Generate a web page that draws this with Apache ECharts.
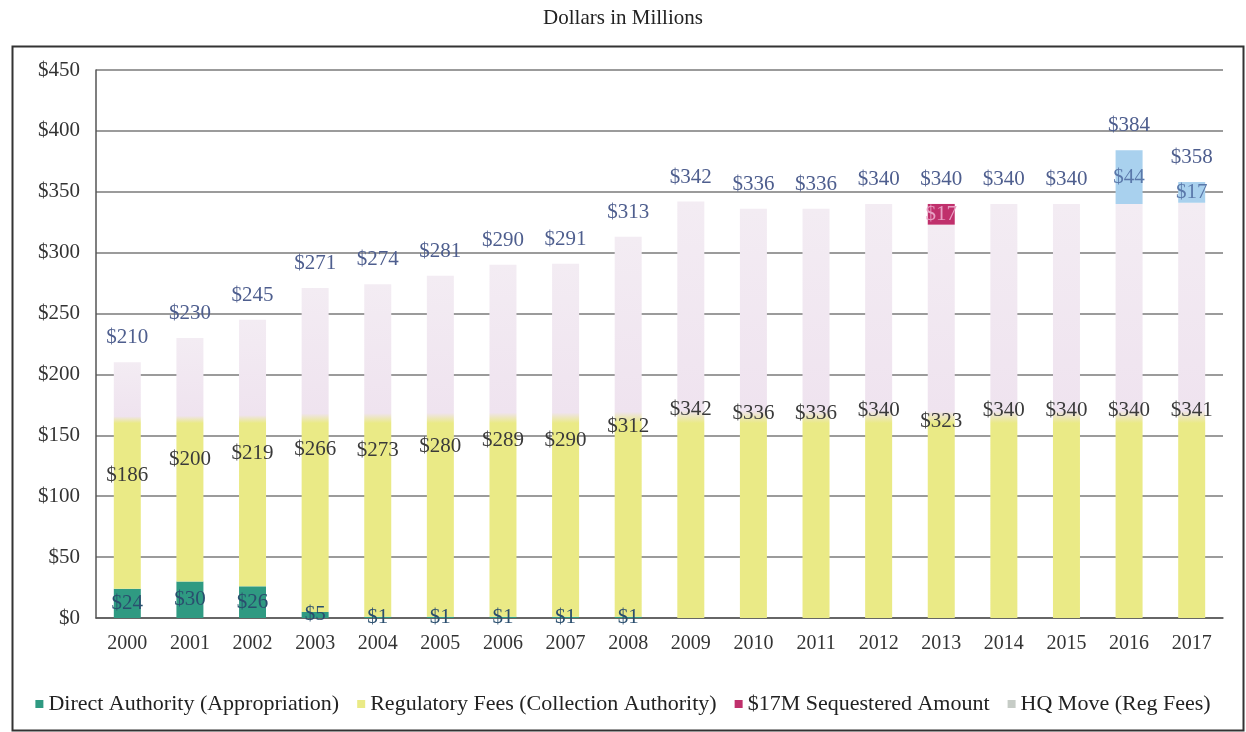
<!DOCTYPE html>
<html>
<head>
<meta charset="utf-8">
<script src="https://cdn.jsdelivr.net/npm/echarts@6/dist/echarts.min.js"></script>
<style>
html,body{margin:0;padding:0;background:#fff;}
#chart{width:1246px;height:732px;}
</style>
</head>
<body>
<div id="chart"></div>
<script>
var categories = ['2000','2001','2002','2003','2004','2005','2006','2007','2008','2009','2010','2011','2012','2013','2014','2015','2016','2017'];
var directAuthority = [24,30,26,5,1,1,1,1,1,null,null,null,null,null,null,null,null,null];
var regulatoryFees = [186,200,219,266,273,280,289,290,312,342,336,336,340,323,340,340,340,341];
var sequestered = [null,null,null,null,null,null,null,null,null,null,null,null,null,17,null,null,null,null];
var hqMove = [null,null,null,null,null,null,null,null,null,null,null,null,null,null,null,null,44,17];
var yTicks = [0,50,100,150,200,250,300,350,400,450];

var FONT = '"Liberation Serif", "DejaVu Serif", serif';
var YELLOW = '#eaea86', LAVENDER = '#efe3ef';
var SPLIT_AT = 160;

var totals = categories.map(function(c, i){
  return (directAuthority[i]||0) + (regulatoryFees[i]||0) + (sequestered[i]||0) + (hqMove[i]||0);
});

var regData = regulatoryFees.map(function(v, i){
  var base = directAuthority[i] || 0;
  var top = base + v;
  var f = (top - SPLIT_AT) / v;
  if (f < 0) f = 0;
  var f0 = Math.max(0, f - 0.03);
  return {
    value: v,
    itemStyle: {
      color: {
        type: 'linear', x: 0, y: 0, x2: 0, y2: 1,
        colorStops: [
          {offset: 0, color: '#f3ecf3'},
          {offset: f0, color: LAVENDER},
          {offset: f, color: YELLOW},
          {offset: 1, color: YELLOW}
        ]
      }
    }
  };
});

function money(p){ return (p.value === null || p.value === undefined || p.value === '-') ? '' : '$' + p.value; }

var chart = echarts.init(document.getElementById('chart'), null, {renderer: 'canvas'});
var BW = 27;
var LS = 21;
chart.setOption({
  animation: false,
  backgroundColor: '#fff',
  title: {
    text: 'Dollars in Millions', left: 'center', top: 3,
    textStyle: {fontFamily: FONT, fontSize: 21, fontWeight: 'normal', color: '#222'}
  },
  graphic: [{
    type: 'rect', left: 10, top: 44, shape: {width: 1231, height: 684},
    style: {fill: 'none', stroke: '#333', lineWidth: 2}, silent: true
  }],
  legend: {
    data: [
      {name: 'Direct Authority (Appropriation)'},
      {name: 'Regulatory Fees (Collection Authority)', itemStyle: {color: YELLOW}},
      {name: '$17M Sequestered Amount'},
      {name: 'HQ Move (Reg Fees)', itemStyle: {color: '#c6ccc6'}}
    ],
    bottom: 12, left: 'center', icon: 'rect', itemWidth: 8, itemHeight: 8, itemGap: 18,
    textStyle: {fontFamily: FONT, fontSize: 22, color: '#222'}
  },
  grid: {left: 96, right: 23, top: 70, bottom: 114, containLabel: false},
  xAxis: {
    type: 'category', data: categories,
    axisLine: {lineStyle: {color: '#555', width: 1.5}},
    axisTick: {show: false},
    axisLabel: {fontFamily: FONT, fontSize: 20, color: '#333', margin: 16}
  },
  yAxis: {
    type: 'value', min: 0, max: 450, interval: 50,
    axisLine: {show: true, lineStyle: {color: '#555', width: 1.5}},
    axisTick: {show: false},
    axisLabel: {fontFamily: FONT, fontSize: 21, color: '#333', margin: 16,
      formatter: function(v){ return yTicks.indexOf(v) >= 0 ? '$' + v : ''; }},
    splitLine: {lineStyle: {color: '#7a7a7a', width: 1.6}}
  },
  series: [
    {
      name: 'Direct Authority (Appropriation)', type: 'bar', stack: 'a', barWidth: BW,
      data: directAuthority, itemStyle: {color: '#2f9a82'},
      label: {show: true, position: 'inside', formatter: money,
        fontFamily: FONT, fontSize: LS, color: '#2a4e6e'}
    },
    {
      name: 'Regulatory Fees (Collection Authority)', type: 'bar', stack: 'a', barWidth: BW,
      data: regData, itemStyle: {color: YELLOW},
      label: {show: true, position: 'inside', formatter: money,
        fontFamily: FONT, fontSize: LS, color: '#3a3a3a'}
    },
    {
      name: '$17M Sequestered Amount', type: 'bar', stack: 'a', barWidth: BW,
      data: sequestered, itemStyle: {color: '#c0306c'},
      label: {show: true, position: 'inside', formatter: money,
        fontFamily: FONT, fontSize: LS, color: '#e8a0c4'}
    },
    {
      name: 'HQ Move (Reg Fees)', type: 'bar', stack: 'a', barWidth: BW,
      data: hqMove, itemStyle: {color: '#a9d1ee'},
      label: {show: true, position: 'inside', formatter: money,
        fontFamily: FONT, fontSize: LS, color: '#5a78aa'}
    },
    {
      name: 'Total', type: 'bar', barWidth: BW, barGap: '-100%',
      data: totals, itemStyle: {color: 'rgba(0,0,0,0)'}, silent: true,
      label: {show: true, position: 'top', distance: 14, formatter: money,
        fontFamily: FONT, fontSize: LS, color: '#4e5e8e'}
    }
  ]
});
</script>
</body>
</html>
